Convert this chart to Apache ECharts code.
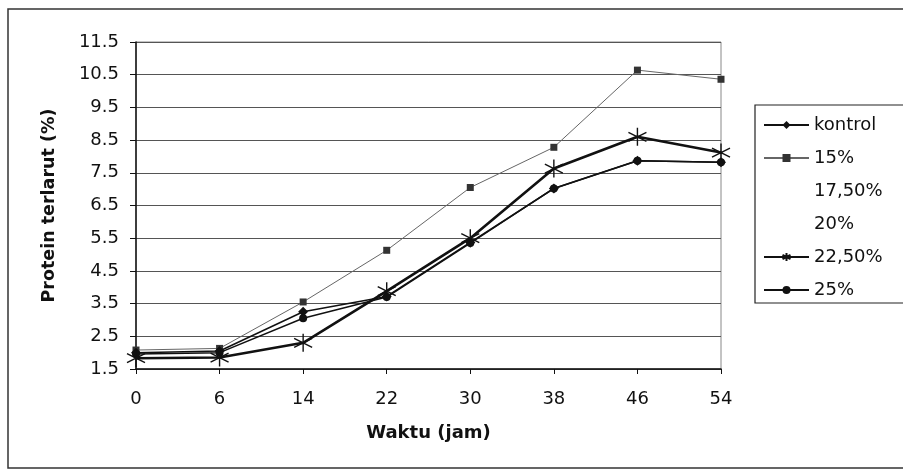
<!DOCTYPE html>
<html>
<head>
<meta charset="utf-8">
<script src="https://cdn.jsdelivr.net/npm/echarts@6/dist/echarts.min.js"></script>
<style>
html,body{margin:0;padding:0;background:#fff;}
#chart{width:903px;height:471px;}
</style>
</head>
<body>
<div id="chart"></div>
<script>
var categories = ['0', '6', '14', '22', '30', '38', '46', '54'];
var kontrol = [2.0, 2.05, 3.25, 3.72, 5.37, 7.02, 7.87, 7.82];
var p15 = [2.08, 2.13, 3.55, 5.13, 7.05, 8.28, 10.64, 10.36];
var p175 = [];
var p20 = [];
var p225 = [1.83, 1.85, 2.3, 3.88, 5.5, 7.63, 8.6, 8.12];
var p25 = [1.96, 2.0, 3.05, 3.7, 5.35, 7.02, 7.87, 7.82];
var seriesNames = ['kontrol', '15%', '17,50%', '20%', '22,50%', '25%'];
var yMin = 1.5, yMax = 11.5, yStep = 1;

var FONT = 'DejaVu Sans';
var star = 'path://M0,-10L0,10M-8.66,-5L8.66,5M-8.66,5L8.66,-5';

var chart = echarts.init(document.getElementById('chart'), null, {renderer: 'canvas'});
chart.setOption({
  backgroundColor: '#fff',
  animation: false,
  graphic: [{
    type: 'rect', z: -10,
    shape: {x: 8, y: 9, width: 905, height: 459},
    style: {fill: 'none', stroke: '#333', lineWidth: 1.5}
  }],
  grid: {
    left: 136, right: 182, top: 42, bottom: 102,
    show: true, borderColor: '#888', borderWidth: 1, backgroundColor: 'transparent'
  },
  legend: {
    orient: 'vertical',
    left: 755, top: 105,
    padding: [9, 70, 2, 8],
    itemWidth: 45, itemHeight: 10, itemGap: 11,
    borderColor: '#222', borderWidth: 1.2,
    backgroundColor: '#fff',
    data: seriesNames,
    textStyle: {fontFamily: FONT, fontSize: 18, color: '#111', lineHeight: 22}
  },
  xAxis: {
    type: 'category',
    data: categories,
    boundaryGap: false,
    name: 'Waktu (jam)',
    nameLocation: 'middle',
    nameGap: 55,
    nameTextStyle: {fontFamily: FONT, fontSize: 18, fontWeight: 'bold', color: '#111'},
    axisLine: {lineStyle: {color: '#111', width: 1.5}},
    axisTick: {show: true, alignWithLabel: true, length: 5, lineStyle: {color: '#111'}},
    axisLabel: {fontFamily: FONT, fontSize: 18, color: '#111', margin: 21},
    splitLine: {show: false}
  },
  yAxis: {
    type: 'value',
    min: yMin, max: yMax, interval: yStep,
    name: 'Protein terlarut (%)',
    nameLocation: 'middle',
    nameGap: 78,
    nameRotate: 90,
    nameTextStyle: {fontFamily: FONT, fontSize: 17.5, fontWeight: 'bold', color: '#111'},
    axisLine: {show: true, lineStyle: {color: '#111', width: 1.5}},
    axisTick: {show: true, length: 6, lineStyle: {color: '#111'}},
    axisLabel: {fontFamily: FONT, fontSize: 18, color: '#111', margin: 17,
      formatter: function (v) { return v.toFixed(1); }},
    splitLine: {show: true, lineStyle: {color: '#555', width: 1.2}}
  },
  series: [
    {name: 'kontrol', type: 'line', data: kontrol, symbol: 'diamond', symbolSize: 10,
      lineStyle: {color: '#111', width: 1.5}, itemStyle: {color: '#111'}, z: 3},
    {name: '15%', type: 'line', data: p15, symbol: 'rect', symbolSize: 7,
      lineStyle: {color: '#666', width: 1}, itemStyle: {color: '#333'}, z: 2},
    {name: '17,50%', type: 'line', data: p175, symbol: 'none',
      lineStyle: {color: 'transparent', width: 0}, itemStyle: {color: 'transparent'}},
    {name: '20%', type: 'line', data: p20, symbol: 'none',
      lineStyle: {color: 'transparent', width: 0}, itemStyle: {color: 'transparent'}},
    {name: '22,50%', type: 'line', data: p225, symbol: star, symbolSize: 18,
      lineStyle: {color: '#111', width: 2.6},
      itemStyle: {color: 'none', borderColor: '#111', borderWidth: 1.4}, z: 4},
    {name: '25%', type: 'line', data: p25, symbol: 'circle', symbolSize: 8,
      lineStyle: {color: '#111', width: 1.5}, itemStyle: {color: '#111'}, z: 3}
  ]
});
</script>
</body>
</html>
